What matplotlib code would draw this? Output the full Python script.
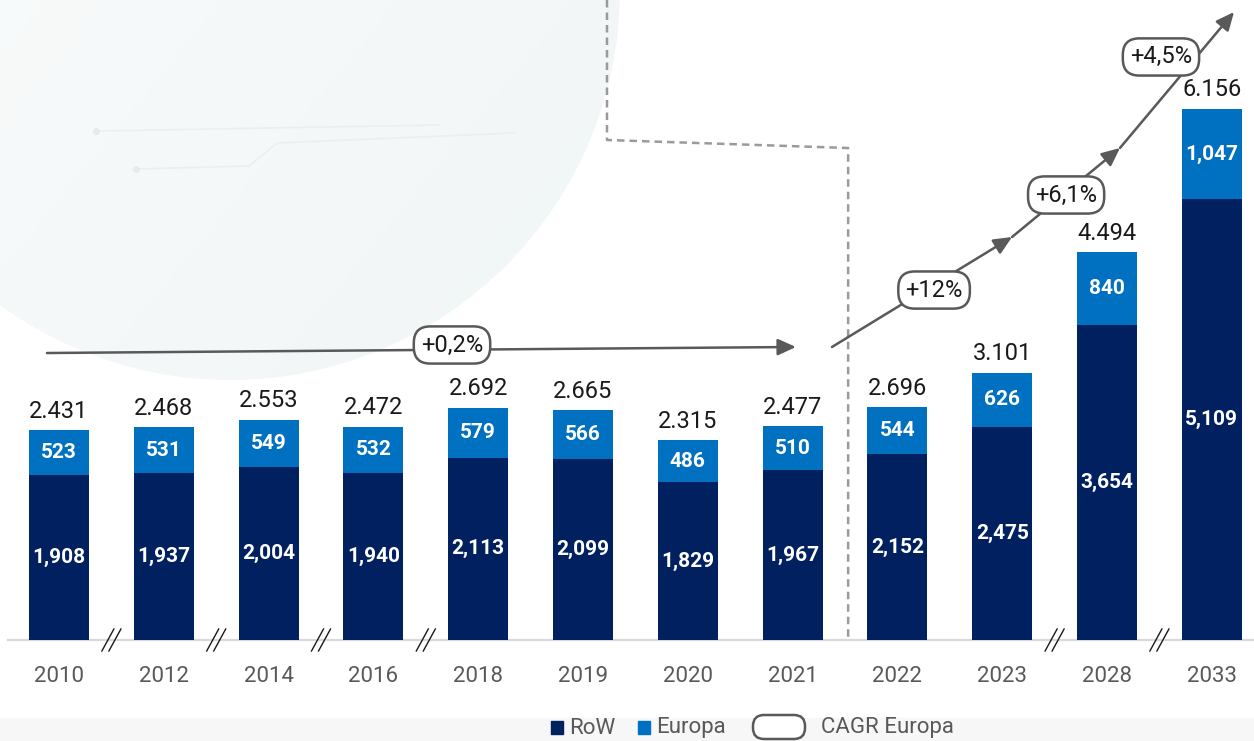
import matplotlib
matplotlib.use('Agg')
import matplotlib.pyplot as plt
from matplotlib.patches import FancyBboxPatch, Rectangle, Circle, FancyArrowPatch
import numpy as np

# ---------------- data ----------------
years = ['2010', '2012', '2014', '2016', '2018', '2019', '2020', '2021',
         '2022', '2023', '2028', '2033']
row = [1908, 1937, 2004, 1940, 2113, 2099, 1829, 1967, 2152, 2475, 3654, 5109]
europa = [523, 531, 549, 532, 579, 566, 486, 510, 544, 626, 840, 1047]
cagr_labels = ['+0,2%', '+12%', '+6,1%', '+4,5%']
break_after = [0, 1, 2, 3, 9, 10]        # axis breaks drawn after these bars
forecast_split = 7                        # dashed separator after 2021

# ---------------- style ----------------
FONT = ['Roboto', 'DejaVu Sans']
plt.rcParams['font.family'] = FONT
C_ROW = '#002060'
C_EU = '#0070C0'
C_GREY = '#595959'

W, H = 1254, 741
fig = plt.figure(figsize=(W / 100, H / 100), dpi=100)
fig.patch.set_facecolor('white')

bg = fig.add_axes([0, 0, 1, 1], zorder=0)
bg.set_xlim(0, W)
bg.set_ylim(H, 0)
bg.axis('off')

grad = np.linspace(0, 1, 256)
gx, gy = np.meshgrid(grad, grad)
img = 0.55 * gx + 0.45 * gy
im = bg.imshow(img, extent=(-160, 620, 380, -400), cmap=matplotlib.colors.LinearSegmentedColormap.from_list(
    'g', ['#fcfdfd', '#f6f9f9', '#f0f5f6']), aspect='auto', zorder=0)
globe = Circle((230, -10), 390, transform=bg.transData)
im.set_clip_path(globe)
bg.plot([96, 440], [131, 125], color='#ebefef', lw=1.2, zorder=1)
bg.plot([136, 249, 277, 514], [169, 166, 143, 133], color='#ebefef', lw=1.2, zorder=1)
bg.plot([96, 136], [131, 169], ls='none', marker='o', ms=4, color='#e6eaea', zorder=1)
bg.add_patch(Rectangle((0, 407), W, 311, color='white', zorder=2))
bg.add_patch(Rectangle((0, 718), W, 23, color='#f7f7f7', zorder=2))

# ---------------- main axes ----------------
step = 104.8
px_per_unit = 0.08626
ax = fig.add_axes([0, (H - 640) / H, 1, 640 / H], zorder=1)
ax.patch.set_visible(False)
ax.set_xlim(-59 / step, (W - 59) / step)
ax.set_ylim(0, 640 / px_per_unit)
for s in ax.spines.values():
    s.set_visible(False)
ax.set_yticks([])

x = np.arange(len(years))
bw = 0.573
ax.bar(x, row, width=bw, color=C_ROW, zorder=3)
ax.bar(x, europa, width=bw, bottom=row, color=C_EU, zorder=3)

ax.plot([-0.49, x[-1] + 0.6], [0, 0], color='#d9d9d9', lw=1.6, zorder=2, clip_on=False)

ax.set_xticks(x)
ax.set_xticklabels(years, fontsize=16, color=C_GREY)
ax.tick_params(axis='x', length=0, pad=19)

for i in x:
    r, e = row[i], europa[i]
    ax.text(i, r / 2, f'{r:,}', ha='center', va='center', color='white',
            fontsize=15, fontweight='bold', zorder=4)
    ax.text(i, r + e / 2, f'{e:,}', ha='center', va='center', color='white',
            fontsize=15, fontweight='bold', zorder=4)
    ax.annotate(f'{r + e:,}'.replace(',', '.'), (i, r + e), xytext=(0, 9),
                textcoords='offset points', ha='center', va='baseline',
                fontsize=17, color='#1a1a1a', zorder=4)

ux = 1 / step
uy = 1 / px_per_unit
for b in break_after:
    xc = b + 0.5
    for off in (-3.5, 3.5):
        ax.plot([xc + (off - 6) * ux, xc + (off + 6) * ux], [-11 * uy, 11 * uy],
                color='#1a1a1a', lw=1.0, clip_on=False, zorder=5)

xs = forecast_split + 0.5 + 0.03
ax.plot([5.229, 5.229, xs, xs], [640 * uy, 500 * uy, 492 * uy, 0],
        ls=(0, (3, 2)), color='#9a9a9a', lw=1.8, clip_on=False, zorder=2)

def arrow(p, q):
    a = FancyArrowPatch(p, q, arrowstyle='-|>,head_length=11,head_width=5',
                        mutation_scale=1, color=C_GREY, lw=1.8,
                        shrinkA=0, shrinkB=0, zorder=5)
    ax.add_patch(a)

arrow((-0.115, 3327), (7.032, 3397))
path = [(7.376, 3397), (9.094, 4672), (10.124, 5704), (11.212, 7280)]
for p, q in zip(path[:-1], path[1:]):
    arrow(p, q)

cagr_pos = [(3.75, 3420), (8.35, 4057), (9.61, 5159), (10.515, 6759)]
for lab, (cx, cy) in zip(cagr_labels, cagr_pos):
    ax.text(cx, cy, lab, ha='center', va='center', fontsize=17,
            color='#1a1a1a', zorder=6,
            bbox=dict(boxstyle='round,pad=0.3,rounding_size=0.7', fc='white',
                      ec=C_GREY, lw=1.8))

bg.add_patch(Rectangle((551, 721), 12, 13, color=C_ROW, zorder=3))
bg.text(569, 728, 'RoW', va='center', ha='left', fontsize=16, color=C_GREY, zorder=3)
bg.add_patch(Rectangle((638, 721), 12, 13, color=C_EU, zorder=3))
bg.text(656, 728, 'Europa', va='center', ha='left', fontsize=16, color=C_GREY, zorder=3)
bg.add_patch(FancyBboxPatch((753, 715), 52, 24,
                            boxstyle='round,pad=0,rounding_size=11',
                            fc='white', ec=C_GREY, lw=1.8, zorder=3))
bg.text(821, 728, 'CAGR Europa', va='center', ha='left', fontsize=16, color=C_GREY, zorder=3)

fig.savefig('out.png', dpi=100)
